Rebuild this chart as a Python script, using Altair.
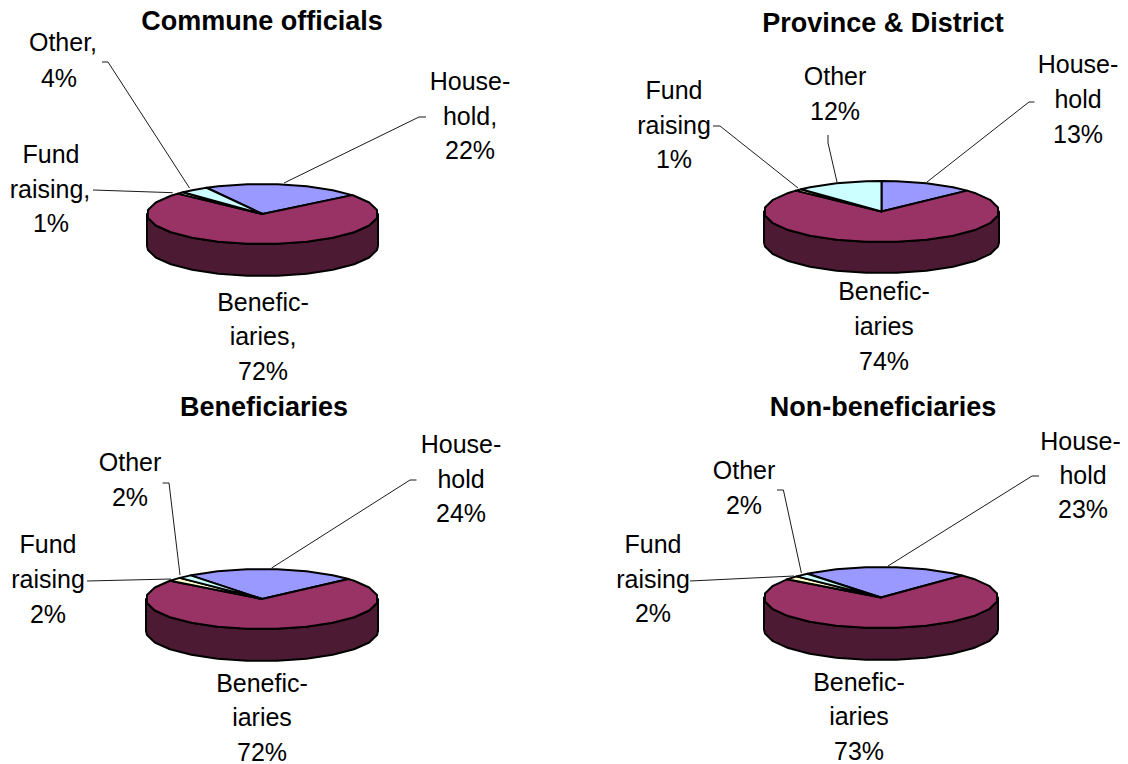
import math
import altair as alt

# ---- values ----
panels = ["Commune officials", "Province & District", "Beneficiaries", "Non-beneficiaries"]
household = [22, 13, 24, 23]
beneficiaries = [72, 74, 72, 73]
fund_raising = [1, 1, 2, 2]
other = [4, 12, 2, 2]
slice_names = ["Household", "Beneficiaries", "Fund raising", "Other"]
colors = ["#9999FF", "#993366", "#FFFFCC", "#CCFFFF"]
side_color = "#4D1A33"

# ---- layout (page pixels) ----
centers = [(262.5, 214, 115.5, 30, 32), (881.5, 211.5, 117.5, 30.5, 31),
           (262, 599, 116, 30, 32), (881, 597.5, 117, 30.5, 32)]
start_angle = [-29, 0, -38, -39]
title_pos = [(262, 30), (883, 32), (264, 416), (883, 416)]
labels = [
    [("Other,", 63, 51), ("4%", 59, 87),
     ("House-", 470, 90), ("hold,", 470, 125), ("22%", 470, 159),
     ("Fund", 51, 163), ("raising,", 50, 198), ("1%", 51, 232),
     ("Benefic-", 263, 311), ("iaries,", 263, 345), ("72%", 263, 380)],
    [("Other", 835, 85), ("12%", 835, 120),
     ("House-", 1078, 73), ("hold", 1078, 108), ("13%", 1078, 143),
     ("Fund", 674, 99), ("raising", 674, 134), ("1%", 674, 168),
     ("Benefic-", 884, 300), ("iaries", 884, 335), ("74%", 884, 370)],
    [("Other", 130, 471), ("2%", 130, 506),
     ("House-", 461, 453), ("hold", 461, 488), ("24%", 461, 522),
     ("Fund", 48, 553), ("raising", 48, 588), ("2%", 48, 623),
     ("Benefic-", 262, 692), ("iaries", 262, 726), ("72%", 262, 761)],
    [("Other", 744, 479), ("2%", 744, 514),
     ("House-", 1080.5, 450), ("hold", 1083, 484), ("23%", 1083, 518),
     ("Fund", 653, 553), ("raising", 653, 588), ("2%", 653, 622),
     ("Benefic-", 859, 691), ("iaries", 859, 725), ("73%", 859, 760)],
]
leaders = [
    [[(102, 62), (108, 62), (189.5, 188)], [(426, 117), (419, 117), (284, 183)], [(93, 190), (172.7, 192.7)]],
    [[(713, 126), (720, 126), (798, 188)], [(828, 135), (828, 143), (837, 182)], [(1034.5, 102), (1029, 102), (927, 182)]],
    [[(162.6, 483), (169, 483), (180, 575)], [(416.5, 480), (410, 480), (271.6, 568)], [(87, 581), (171, 579)]],
    [[(777, 490), (783.4, 490), (801.4, 573)], [(1039, 476), (1032, 476), (888, 566)], [(690, 581), (794, 576)]],
]
STEP = 15.0
OFFSET = 7.5


def pt(c, a, dy=0):
    cx, cy, rx, ry, _ = c
    r = math.radians(a)
    return [cx + rx * math.sin(r), cy - ry * math.cos(r) + dy]


def arc(c, a0, a1, dy=0):
    pts = [pt(c, a0, dy)]
    k = math.floor((a0 - OFFSET) / STEP) + 1
    while OFFSET + k * STEP < a1:
        pts.append(pt(c, OFFSET + k * STEP, dy))
        k += 1
    pts.append(pt(c, a1, dy))
    return pts


def feat(kind, coords, color="none"):
    return {"type": "Feature", "properties": {"color": color},
            "geometry": {"type": kind, "coordinates": coords}}


shapes, lines = [], []
for i in range(4):
    c = centers[i]
    front = arc(c, 90, 270)
    back = arc(c, 90, 270, c[4])
    shapes.append(feat("Polygon", [front + back[::-1] + [front[0]]], side_color))
    vals = [household[i], beneficiaries[i], fund_raising[i], other[i]]
    total = sum(vals)
    a = start_angle[i]
    for v, col in zip(vals, colors):
        a1 = a + 360 * v / total
        ring = [[c[0], c[1]]] + arc(c, a, a1) + [[c[0], c[1]]]
        shapes.append(feat("Polygon", [ring], col))
        a = a1
    for seg in leaders[i]:
        lines.append(feat("LineString", [list(p) for p in seg]))

proj = dict(type="identity", scale=1, translate=[-8, -8])


def geo(features):
    return alt.Data(values={"type": "FeatureCollection", "features": features},
                    format=alt.DataFormat(property="features", type="json"))


pies = alt.Chart(geo(shapes)).mark_geoshape(stroke="black", strokeWidth=2, strokeJoin="round").encode(
    fill=alt.Fill("properties.color:N", scale=None)).project(**proj)
leader_layer = alt.Chart(geo(lines)).mark_geoshape(filled=False, stroke="black", strokeWidth=0.9).project(**proj)

xs = alt.X("x:Q", scale=alt.Scale(domain=[8, 1120], range=[0, 1112]), axis=None)
ys = alt.Y("y:Q", scale=alt.Scale(domain=[8, 764], range=[0, 756]), axis=None)

label_rows = [{"t": t, "x": x, "y": y} for panel in labels for t, x, y in panel]
title_rows = [{"t": t, "x": p[0], "y": p[1]} for t, p in zip(panels, title_pos)]

label_layer = alt.Chart(alt.Data(values=label_rows)).mark_text(
    font="Liberation Sans", fontSize=25, color="black", baseline="alphabetic", align="center"
).encode(x=xs, y=ys, text="t:N")
title_layer = alt.Chart(alt.Data(values=title_rows)).mark_text(
    font="Liberation Sans", fontSize=27, fontWeight="bold", color="black", baseline="alphabetic", align="center"
).encode(x=xs, y=ys, text="t:N")

chart = alt.layer(leader_layer, pies, label_layer, title_layer).properties(
    width=1112, height=756, padding=0, autosize=alt.AutoSizeParams(type="none"),
    background="white"
).configure_view(stroke=None)

chart.save("out.html", embed_options={"renderer": "svg", "actions": False})
